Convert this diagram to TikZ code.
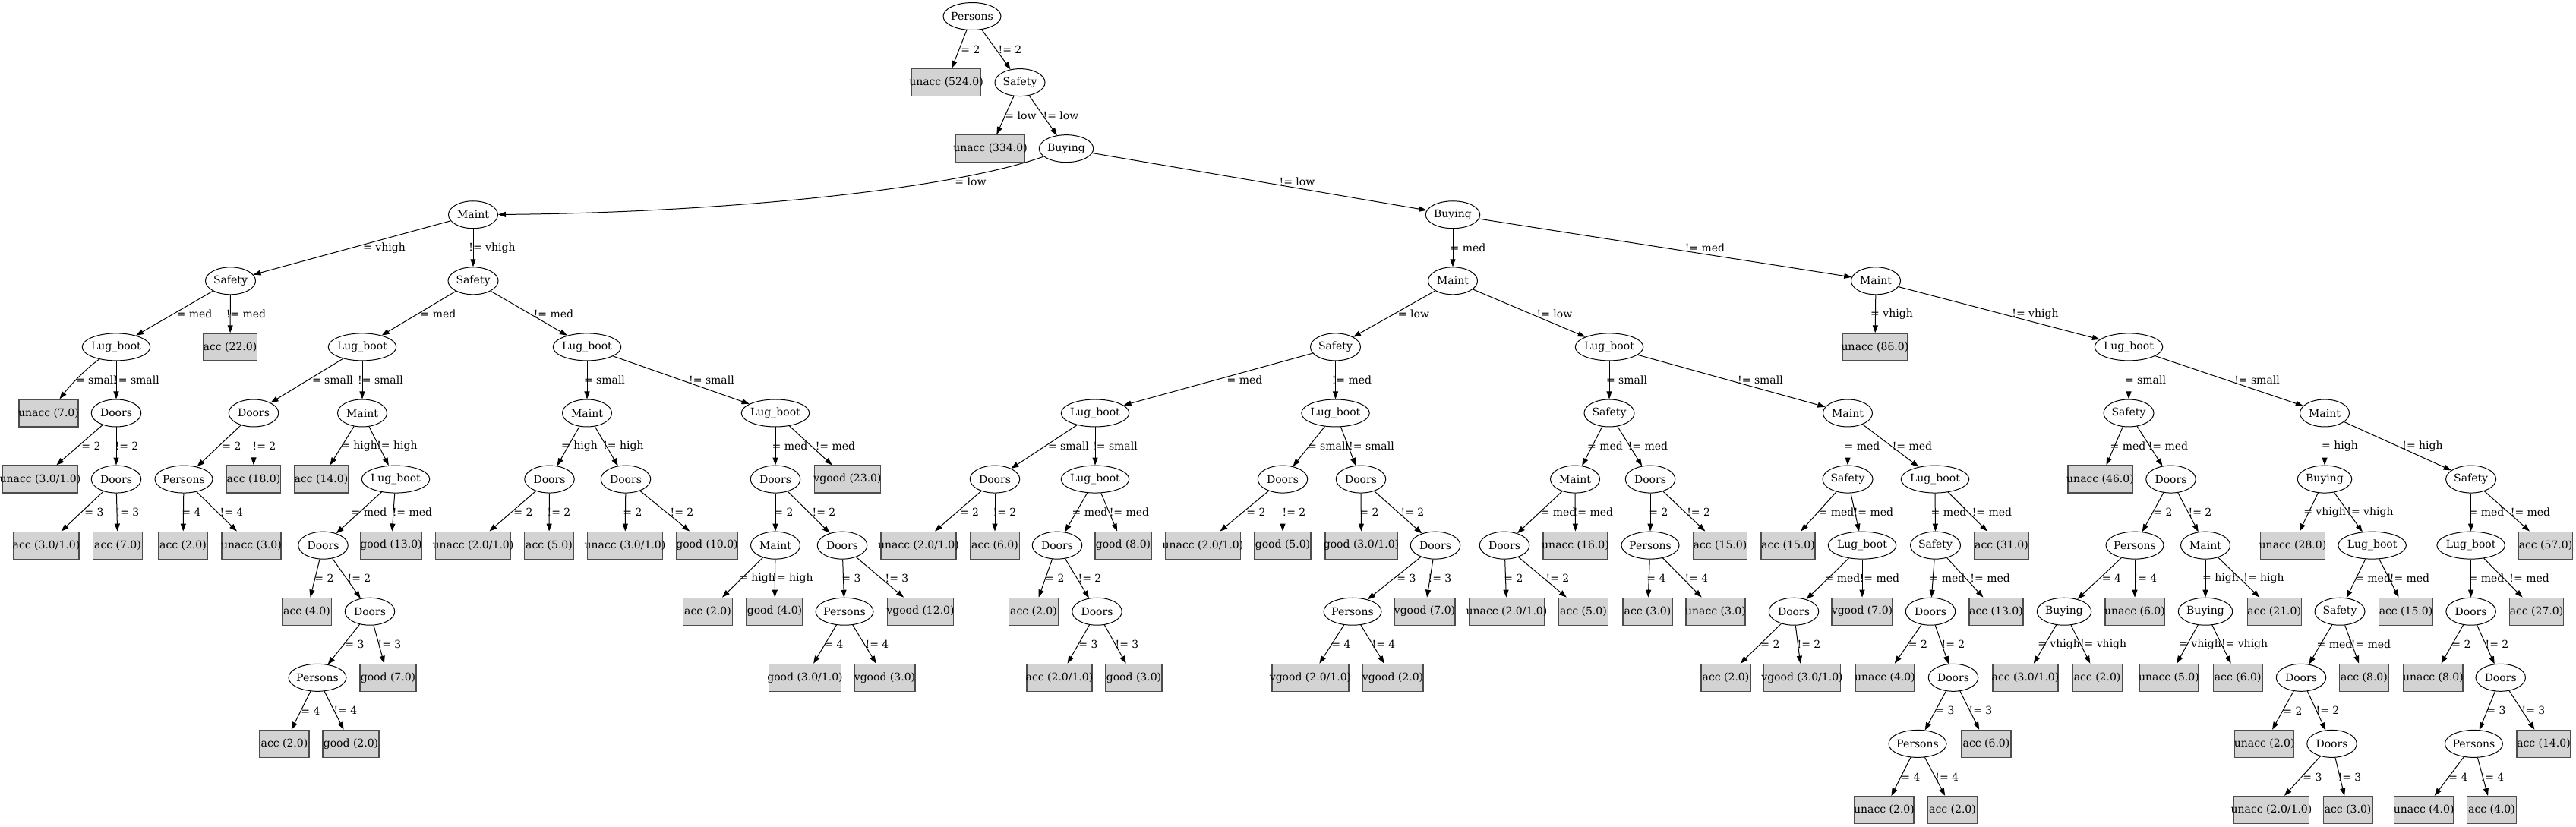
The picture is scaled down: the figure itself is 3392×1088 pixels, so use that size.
\documentclass[tikz,border=0pt]{standalone}
\usepackage{fontspec}
\setmainfont{DejaVu Serif}
\usetikzlibrary{shapes.geometric,arrows.meta}
\definecolor{leafgray}{HTML}{D3D3D3}
\newcommand\mkleaf[5]{\node[leafbox,minimum width=#5pt] (#1) at (#2,{21.5+87.08*#3}) {\makebox[0pt]{#4}};}
\newcommand\mkell[5]{\node[ellbox,minimum width=#5pt] (#1) at (#2,{21.5+87.08*#3}) {\makebox[0pt]{#4}};}
\newcommand\mkedge[5]{\draw[edgeline] (#1) -- (#2) node[lbl] (lab-#2) at (#4,{21.5+87.08*(#5+0.5)}) {#3};}
\begin{document}
\begin{tikzpicture}[x=1pt,y=-1pt,
  font=\fontsize{14pt}{16pt}\selectfont,
  ellbox/.style={ellipse,draw=black,line width=1pt,inner sep=0pt,minimum height=36pt},
  leafbox/.style={rectangle,draw=black!70,line width=1.2pt,fill=leafgray,inner sep=0pt,minimum height=36pt},
  edgeline/.style={draw=black,line width=1pt,-{Triangle[length=10pt,width=7pt]}},
  lbl/.style={inner sep=0pt}]
\useasboundingbox (0,0) rectangle (3392,1088);
% ---- nodes
\mkell{root}{1280}{0}{Persons}{76}
\mkleaf{u524}{1246}{1}{unacc (524.0)}{91.5}
\mkell{s1}{1343}{1}{Safety}{66}
\mkleaf{u334}{1304}{2}{unacc (334.0)}{91.5}
\mkell{b1}{1404}{2}{Buying}{71.5}
\mkell{mA}{623}{3}{Maint}{65}
\mkell{bB}{1913}{3}{Buying}{71.5}
% left half
\mkell{sA}{303.5}{4}{Safety}{66}
\mkell{sB}{623}{4}{Safety}{66}
\mkell{lbA}{153}{5}{Lug\_boot}{89.5}
\mkleaf{a22}{303}{5}{acc (22.0)}{71}
\mkleaf{u7}{64}{6}{unacc (7.0)}{78}
\mkell{dA}{153}{6}{Doors}{65.5}
\mkleaf{u31a}{53}{7}{unacc (3.0/1.0)}{99}
\mkell{dB}{153}{7}{Doors}{65.5}
\mkleaf{a31a}{61}{8}{acc (3.0/1.0)}{86}
\mkleaf{a7}{155}{8}{acc (7.0)}{65}
\mkell{lbB}{477}{5}{Lug\_boot}{89.5}
\mkell{lbC}{773}{5}{Lug\_boot}{89.5}
\mkell{dC}{334}{6}{Doors}{65.5}
\mkell{mB}{477}{6}{Maint}{65}
\mkell{pA}{242}{7}{Persons}{76}
\mkleaf{a18}{334}{7}{acc (18.0)}{71}
\mkleaf{a2a}{241}{8}{acc (2.0)}{65}
\mkleaf{u3a}{331}{8}{unacc (3.0)}{78}
\mkleaf{a14}{423}{7}{acc (14.0)}{71}
\mkell{lbD}{521}{7}{Lug\_boot}{89.5}
\mkell{dD}{425.5}{8}{Doors}{65.5}
\mkleaf{g13}{515}{8}{good (13.0)}{80}
\mkleaf{a4}{404}{9}{acc (4.0)}{65}
\mkell{dE}{487}{9}{Doors}{65.5}
\mkell{pB}{418}{10}{Persons}{76}
\mkleaf{g7}{511}{10}{good (7.0)}{74}
\mkleaf{a2b}{374.5}{11}{acc (2.0)}{65}
\mkleaf{g2}{462}{11}{good (2.0)}{74}
\mkell{mC}{773}{6}{Maint}{65}
\mkell{lbE}{1021}{6}{Lug\_boot}{89.5}
\mkell{dF}{723.5}{7}{Doors}{65.5}
\mkell{dG}{824}{7}{Doors}{65.5}
\mkleaf{u21a}{623}{8}{unacc (2.0/1.0)}{99}
\mkleaf{a5a}{723}{8}{acc (5.0)}{65}
\mkleaf{u31b}{823}{8}{unacc (3.0/1.0)}{99}
\mkleaf{g10}{931}{8}{good (10.0)}{80}
\mkell{dH}{1021}{7}{Doors}{65.5}
\mkleaf{vg23}{1116}{7}{vgood (23.0)}{87}
\mkell{mD}{1021}{8}{Maint}{65}
\mkell{dI}{1109}{8}{Doors}{65.5}
\mkleaf{a2c}{932}{9}{acc (2.0)}{65}
\mkleaf{g4}{1020}{9}{good (4.0)}{74}
\mkell{pC}{1112}{9}{Persons}{76}
\mkleaf{vg12}{1212}{9}{vgood (12.0)}{87}
\mkleaf{g31a}{1060}{10}{good (3.0/1.0)}{95}
\mkleaf{vg3a}{1165}{10}{vgood (3.0)}{80}
% right half
\mkell{mE}{1913}{4}{Maint}{65}
\mkell{mF}{2470}{4}{Maint}{65}
\mkell{sC}{1758.5}{5}{Safety}{66}
\mkell{lbF}{2119}{5}{Lug\_boot}{89.5}
\mkell{lbG}{1442}{6}{Lug\_boot}{89.5}
\mkell{lbH}{1758.5}{6}{Lug\_boot}{89.5}
\mkell{dJ}{1310}{7}{Doors}{65.5}
\mkell{lbI}{1442}{7}{Lug\_boot}{89.5}
\mkleaf{u21b}{1209.5}{8}{unacc (2.0/1.0)}{99}
\mkleaf{a6a}{1310}{8}{acc (6.0)}{65}
\mkell{dK}{1392}{8}{Doors}{65.5}
\mkleaf{g8}{1479}{8}{good (8.0)}{74}
\mkleaf{a2d}{1361}{9}{acc (2.0)}{65}
\mkell{dL}{1444.5}{9}{Doors}{65.5}
\mkleaf{a21a}{1395}{10}{acc (2.0/1.0)}{86}
\mkleaf{g3}{1493}{10}{good (3.0)}{74}
\mkell{dM}{1689}{7}{Doors}{65.5}
\mkell{dN}{1792}{7}{Doors}{65.5}
\mkleaf{u21c}{1584}{8}{unacc (2.0/1.0)}{99}
\mkleaf{g5}{1689}{8}{good (5.0)}{74}
\mkleaf{g31b}{1792.5}{8}{good (3.0/1.0)}{95}
\mkell{dO}{1890}{8}{Doors}{65.5}
\mkell{pD}{1781}{9}{Persons}{76}
\mkleaf{vg7a}{1876}{9}{vgood (7.0)}{80}
\mkleaf{vg21}{1725.5}{10}{vgood (2.0/1.0)}{101}
\mkleaf{vg2}{1834}{10}{vgood (2.0)}{80}
\mkell{sD}{2119}{6}{Safety}{66}
\mkell{mG}{2433}{6}{Maint}{65}
\mkell{mH}{2074}{7}{Maint}{65}
\mkell{dP}{2173}{7}{Doors}{65.5}
\mkell{dQ}{1981}{8}{Doors}{65.5}
\mkleaf{u16}{2074.5}{8}{unacc (16.0)}{85}
\mkleaf{u21d}{1984}{9}{unacc (2.0/1.0)}{99}
\mkleaf{a5b}{2085}{9}{acc (5.0)}{65}
\mkell{pE}{2173}{8}{Persons}{76}
\mkleaf{a15a}{2265}{8}{acc (15.0)}{71}
\mkleaf{a3}{2169.5}{9}{acc (3.0)}{65}
\mkleaf{u3b}{2259}{9}{unacc (3.0)}{78}
\mkell{sE}{2433}{7}{Safety}{66}
\mkell{lbJ}{2548}{7}{Lug\_boot}{89.5}
\mkleaf{a15b}{2354.5}{8}{acc (15.0)}{71}
\mkell{lbK}{2452}{8}{Lug\_boot}{89.5}
\mkell{dR}{2362}{9}{Doors}{65.5}
\mkleaf{vg7b}{2452}{9}{vgood (7.0)}{80}
\mkleaf{a2e}{2272.5}{10}{acc (2.0)}{65}
\mkleaf{vg31}{2373}{10}{vgood (3.0/1.0)}{101}
\mkell{sF}{2548.5}{8}{Safety}{66}
\mkleaf{a31}{2635.5}{8}{acc (31.0)}{71}
\mkell{dS}{2542}{9}{Doors}{65.5}
\mkleaf{a13}{2628.5}{9}{acc (13.0)}{71}
\mkleaf{u4a}{2482}{10}{unacc (4.0)}{78}
\mkell{dT}{2572}{10}{Doors}{65.5}
\mkell{pF}{2525}{11}{Persons}{76}
\mkleaf{a6b}{2615.5}{11}{acc (6.0)}{65}
\mkleaf{u2a}{2481}{12}{unacc (2.0)}{78}
\mkleaf{a2f}{2571}{12}{acc (2.0)}{65}
\mkleaf{u86}{2469}{5}{unacc (86.0)}{85}
\mkell{lbL}{2803}{5}{Lug\_boot}{89.5}
\mkell{sG}{2803}{6}{Safety}{66}
\mkell{mI}{3061}{6}{Maint}{65}
\mkleaf{u46}{2765.5}{7}{unacc (46.0)}{85}
\mkell{dU}{2858.5}{7}{Doors}{65.5}
\mkell{pG}{2811}{8}{Persons}{76}
\mkell{mJ}{2904}{8}{Maint}{65}
\mkell{bC}{2718}{9}{Buying}{71.5}
\mkleaf{u6}{2811}{9}{unacc (6.0)}{78}
\mkleaf{a31b}{2667}{10}{acc (3.0/1.0)}{86}
\mkleaf{a2g}{2761.6}{10}{acc (2.0)}{65}
\mkell{bD}{2904}{9}{Buying}{71.5}
\mkleaf{a21}{2994.7}{9}{acc (21.0)}{71}
\mkleaf{u5}{2856}{10}{unacc (5.0)}{78}
\mkleaf{a6c}{2946.7}{10}{acc (6.0)}{65}
\mkell{bE}{3061}{7}{Buying}{71.5}
\mkell{sH}{3253.6}{7}{Safety}{66}
\mkleaf{u28}{3019}{8}{unacc (28.0)}{85}
\mkell{lbM}{3123.6}{8}{Lug\_boot}{89.5}
\mkell{sI}{3081}{9}{Safety}{66}
\mkleaf{a15c}{3168}{9}{acc (15.0)}{71}
\mkell{dV}{3030}{10}{Doors}{65.5}
\mkleaf{a8}{3113}{10}{acc (8.0)}{65}
\mkleaf{u2b}{2981.7}{11}{unacc (2.0)}{78}
\mkell{dW}{3070.5}{11}{Doors}{65.5}
\mkleaf{u21e}{2991}{12}{unacc (2.0/1.0)}{99}
\mkleaf{a3b}{3091.6}{12}{acc (3.0)}{65}
\mkell{lbN}{3253.6}{8}{Lug\_boot}{89.5}
\mkleaf{a57}{3352}{8}{acc (57.0)}{71}
\mkell{dX}{3253.6}{9}{Doors}{65.5}
\mkleaf{a27}{3340}{9}{acc (27.0)}{71}
\mkleaf{u8}{3204}{10}{unacc (8.0)}{78}
\mkell{dY}{3292.7}{10}{Doors}{65.5}
\mkell{pH}{3257.4}{11}{Persons}{76}
\mkleaf{a14b}{3349.5}{11}{acc (14.0)}{71}
\mkleaf{u4b}{3191.6}{12}{unacc (4.0)}{78}
\mkleaf{a4b}{3281}{12}{acc (4.0)}{65}
% ---- edges
\mkedge{root}{u524}{= 2}{1278}{0}
\mkedge{root}{s1}{!= 2}{1330}{0}
\mkedge{s1}{u334}{= low}{1344}{1}
\mkedge{s1}{b1}{!= low}{1397}{1}
\draw[edgeline] (b1) .. controls (1250,250) and (950,280) .. (mA) node[lbl] (lab-mA) at (1278,239) {= low};
\mkedge{b1}{bB}{!= low}{1708}{2}
\mkedge{mA}{sA}{= vhigh}{506}{3}
\mkedge{mA}{sB}{!= vhigh}{648}{3}
\mkedge{bB}{mE}{= med}{1933}{3}
\mkedge{bB}{mF}{!= med}{2245}{3}
\mkedge{sA}{lbA}{= med}{256}{4}
\mkedge{sA}{a22}{!= med}{324}{4}
\mkedge{sB}{lbB}{= med}{577}{4}
\mkedge{sB}{lbC}{!= med}{729}{4}
\mkedge{mE}{sC}{= low}{1861.5}{4}
\mkedge{mE}{lbF}{!= low}{2047}{4}
\mkedge{mF}{u86}{= vhigh}{2491}{4}
\mkedge{mF}{lbL}{!= vhigh}{2680}{4}
\draw[edgeline] (lbA) .. controls (110,488) and (92,508) .. (u7) node[lbl] (lab-u7) at (127,500) {= small};
\mkedge{lbA}{dA}{!= small}{180}{5}
\mkedge{lbB}{dC}{= small}{438}{5}
\mkedge{lbB}{mB}{!= small}{501}{5}
\mkedge{lbC}{mC}{= small}{796}{5}
\mkedge{lbC}{lbE}{!= small}{937}{5}
\mkedge{sC}{lbG}{= med}{1639}{5}
\mkedge{sC}{lbH}{!= med}{1780}{5}
\mkedge{lbF}{sD}{= small}{2142}{5}
\mkedge{lbF}{mG}{!= small}{2318}{5}
\mkedge{lbL}{sG}{= small}{2825}{5}
\mkedge{lbL}{mI}{!= small}{2972}{5}
\mkedge{dA}{u31a}{= 2}{120}{6}
\mkedge{dA}{dB}{!= 2}{167}{6}
\mkedge{dC}{pA}{= 2}{305}{6}
\mkedge{dC}{a18}{!= 2}{348}{6}
\mkedge{mB}{a14}{= high}{473}{6}
\mkedge{mB}{lbD}{!= high}{523}{6}
\mkedge{mC}{dF}{= high}{763}{6}
\mkedge{mC}{dG}{!= high}{821}{6}
\mkedge{lbE}{dH}{= med}{1040}{6}
\mkedge{lbE}{vg23}{!= med}{1100}{6}
\mkedge{lbG}{dJ}{= small}{1407}{6}
\mkedge{lbG}{lbI}{!= small}{1468}{6}
\mkedge{lbH}{dM}{= small}{1749}{6}
\mkedge{lbH}{dN}{!= small}{1806}{6}
\mkedge{sD}{mH}{= med}{2113.5}{6}
\mkedge{sD}{dP}{!= med}{2170}{6}
\mkedge{mG}{sE}{= med}{2452}{6}
\mkedge{mG}{lbJ}{!= med}{2518}{6}
\mkedge{sG}{u46}{= med}{2802}{6}
\mkedge{sG}{dU}{!= med}{2855}{6}
\mkedge{mI}{bE}{= high}{3081}{6}
\mkedge{mI}{sH}{!= high}{3190}{6}
\mkedge{dB}{a31a}{= 3}{124}{7}
\mkedge{dB}{a7}{!= 3}{168}{7}
\mkedge{pA}{a2a}{= 4}{252}{7}
\mkedge{pA}{u3a}{!= 4}{305}{7}
\mkedge{lbD}{dD}{= med}{486}{7}
\mkedge{lbD}{g13}{!= med}{543}{7}
\mkedge{dF}{u21a}{= 2}{689}{7}
\mkedge{dF}{a5a}{!= 2}{736}{7}
\mkedge{dG}{u31b}{= 2}{833}{7}
\mkedge{dG}{g10}{!= 2}{898}{7}
\mkedge{dH}{mD}{= 2}{1032}{7}
\mkedge{dH}{dI}{!= 2}{1085}{7}
\mkedge{dJ}{u21b}{= 2}{1276.5}{7}
\mkedge{dJ}{a6a}{!= 2}{1323}{7}
\mkedge{lbI}{dK}{= med}{1435}{7}
\mkedge{lbI}{g8}{!= med}{1487}{7}
\mkedge{dM}{u21c}{= 2}{1654}{7}
\mkedge{dM}{g5}{!= 2}{1704}{7}
\mkedge{dN}{g31b}{= 2}{1803}{7}
\mkedge{dN}{dO}{!= 2}{1860}{7}
\mkedge{mH}{dQ}{= med}{2052}{7}
\mkedge{mH}{u16}{!= med}{2098}{7}
\mkedge{dP}{pE}{= 2}{2184}{7}
\mkedge{dP}{a15a}{!= 2}{2236.6}{7}
\mkedge{sE}{a15b}{= med}{2418}{7}
\mkedge{sE}{lbK}{!= med}{2467}{7}
\mkedge{lbJ}{sF}{= med}{2566}{7}
\mkedge{lbJ}{a31}{!= med}{2623}{7}
\mkedge{dU}{pG}{= 2}{2848}{7}
\mkedge{dU}{mJ}{!= 2}{2897}{7}
\mkedge{bE}{u28}{= vhigh}{3061}{7}
\mkedge{bE}{lbM}{!= vhigh}{3121}{7}
\mkedge{sH}{lbN}{= med}{3274}{7}
\mkedge{sH}{a57}{!= med}{3332}{7}
\mkedge{dD}{a4}{= 2}{427}{8}
\mkedge{dD}{dE}{!= 2}{473}{8}
\mkedge{mD}{a2c}{= high}{997}{8}
\mkedge{mD}{g4}{!= high}{1044}{8}
\mkedge{dI}{pC}{= 3}{1121}{8}
\mkedge{dI}{vg12}{!= 3}{1181}{8}
\mkedge{dK}{a2d}{= 2}{1389}{8}
\mkedge{dK}{dL}{!= 2}{1435}{8}
\mkedge{dO}{pD}{= 3}{1852}{8}
\mkedge{dO}{vg7a}{!= 3}{1896}{8}
\mkedge{dQ}{u21d}{= 2}{1993}{8}
\mkedge{dQ}{a5b}{!= 2}{2051}{8}
\mkedge{pE}{a3}{= 4}{2181}{8}
\mkedge{pE}{u3b}{!= 4}{2234}{8}
\mkedge{lbK}{dR}{= med}{2426}{8}
\mkedge{lbK}{vg7b}{!= med}{2475}{8}
\mkedge{sF}{dS}{= med}{2564}{8}
\mkedge{sF}{a13}{!= med}{2620.6}{8}
\mkedge{pG}{bC}{= 4}{2780.5}{8}
\mkedge{pG}{u6}{!= 4}{2825}{8}
\mkedge{mJ}{bD}{= high}{2924}{8}
\mkedge{mJ}{a21}{!= high}{2981}{8}
\mkedge{lbM}{sI}{= med}{3124.6}{8}
\mkedge{lbM}{a15c}{!= med}{3173}{8}
\mkedge{lbN}{dX}{= med}{3274}{8}
\mkedge{lbN}{a27}{!= med}{3330.6}{8}
\mkedge{dE}{pB}{= 3}{467}{9}
\mkedge{dE}{g7}{!= 3}{513}{9}
\mkedge{pC}{g31a}{= 4}{1098}{9}
\mkedge{pC}{vg3a}{!= 4}{1155}{9}
\mkedge{dL}{a21a}{= 3}{1433}{9}
\mkedge{dL}{g3}{!= 3}{1484}{9}
\mkedge{pD}{vg21}{= 4}{1766}{9}
\mkedge{pD}{vg2}{!= 4}{1822}{9}
\mkedge{dR}{a2e}{= 2}{2331}{9}
\mkedge{dR}{vg31}{!= 2}{2382}{9}
\mkedge{dS}{u4a}{= 2}{2525.5}{9}
\mkedge{dS}{dT}{!= 2}{2572}{9}
\mkedge{bC}{a31b}{= vhigh}{2711}{9}
\mkedge{bC}{a2g}{!= vhigh}{2769.6}{9}
\mkedge{bD}{u5}{= vhigh}{2897}{9}
\mkedge{bD}{a6c}{!= vhigh}{2955.6}{9}
\mkedge{sI}{dV}{= med}{3074}{9}
\mkedge{sI}{a8}{!= med}{3122}{9}
\mkedge{dX}{u8}{= 2}{3241}{9}
\mkedge{dX}{dY}{!= 2}{3288}{9}
\mkedge{pB}{a2b}{= 4}{409}{10}
\mkedge{pB}{g2}{!= 4}{455}{10}
\mkedge{dT}{pF}{= 3}{2561}{10}
\mkedge{dT}{a6b}{!= 3}{2608}{10}
\mkedge{dV}{u2b}{= 2}{3019}{10}
\mkedge{dV}{dW}{!= 2}{3065}{10}
\mkedge{dY}{pH}{= 3}{3287}{10}
\mkedge{dY}{a14b}{!= 3}{3336}{10}
\mkedge{pF}{u2a}{= 4}{2516}{11}
\mkedge{pF}{a2f}{!= 4}{2563.7}{11}
\mkedge{dW}{u21e}{= 3}{3045}{11}
\mkedge{dW}{a3b}{!= 3}{3094}{11}
\mkedge{pH}{u4b}{= 4}{3237}{11}
\mkedge{pH}{a4b}{!= 4}{3282}{11}
\end{tikzpicture}
\end{document}
